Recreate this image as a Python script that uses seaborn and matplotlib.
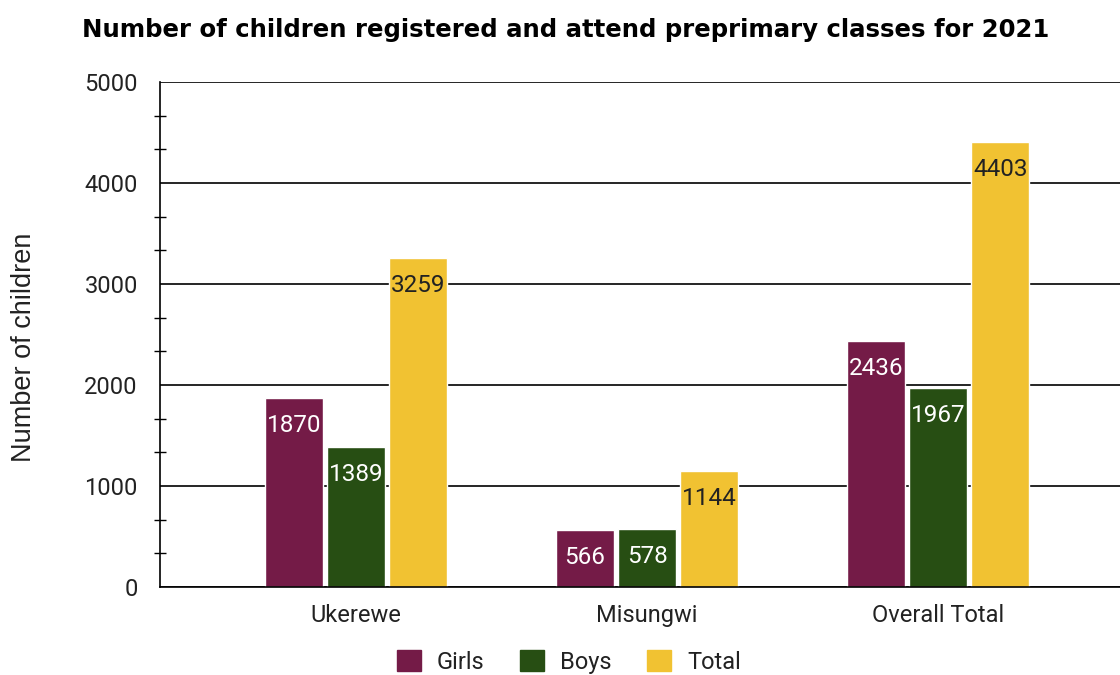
import matplotlib
matplotlib.use("Agg")
import matplotlib.pyplot as plt
import seaborn as sns
import pandas as pd
from matplotlib.patches import Patch
from matplotlib.ticker import MultipleLocator

categories = ["Ukerewe", "Misungwi", "Overall Total"]
series_names = ["Girls", "Boys", "Total"]
girls = [1870, 566, 2436]
boys = [1389, 578, 1967]
total = [3259, 1144, 4403]
colors = ["#741b47", "#274e13", "#f1c232"]
label_colors = ["white", "white", "#222222"]

rows = []
for name, vals in zip(series_names, [girls, boys, total]):
    for c, v in zip(categories, vals):
        rows.append({"Region": c, "Group": name, "Count": v})
df = pd.DataFrame(rows)

sns.set_theme(style="white")
plt.rcParams["font.family"] = ["Roboto", "DejaVu Sans"]

fig = plt.figure(figsize=(11.2, 6.75), dpi=100)
ax = fig.add_axes([160 / 1120, 1 - 587 / 675, 1 - 160 / 1120, (587 - 82) / 675])

sns.barplot(data=df, x="Region", y="Count", hue="Group", order=categories,
            hue_order=series_names, palette=colors, width=0.64, gap=0.065,
            saturation=1, ax=ax, legend=False)

for cont, lc in zip(ax.containers, label_colors):
    ax.bar_label(cont, labels=[str(int(b.get_height())) for b in cont],
                 label_type="edge", padding=-28, color=lc, fontsize=17.5)

ax.set_ylim(0, 5000)
ax.set_xlim(-0.674, 2.625)
ax.yaxis.set_major_locator(MultipleLocator(1000))
ax.yaxis.set_minor_locator(MultipleLocator(1000 / 3))
ax.grid(axis="y", which="major", color="black", linewidth=1.2)
ax.set_axisbelow(True)
for s in ["top", "right"]:
    ax.spines[s].set_visible(False)
ax.spines["left"].set_color("black")
ax.spines["left"].set_linewidth(1.2)
ax.spines["bottom"].set_color("black")
ax.spines["bottom"].set_linewidth(1.2)
ax.tick_params(axis="y", which="minor", left=True, direction="inout", length=8, width=1, color="black")
ax.tick_params(axis="y", which="major", left=False, labelsize=17, labelcolor="#222222", pad=10)
ax.tick_params(axis="x", bottom=False, labelsize=17, labelcolor="#222222", pad=6)
ax.set_xlabel("")
ax.set_ylabel("Number of children", fontsize=19.5, color="#222222",
              family=["Liberation Sans", "DejaVu Sans"])
ax.yaxis.set_label_coords((37 - 160) / 960, (587 - 347) / 505)

fig.text(82 / 1120, 1 - 30 / 675, "Number of children registered and attend preprimary classes for 2021",
         fontsize=17.6, fontweight="bold", family=["DejaVu Sans"],
         ha="left", va="center", color="black")

handles = [Patch(facecolor=c, edgecolor=c) for c in colors]
fig.legend(handles, series_names, loc="center", bbox_to_anchor=(0.508, 0.019), ncol=3,
           frameon=False, fontsize=17, handlelength=1.0, handleheight=1.0,
           columnspacing=1.5, handletextpad=0.7, labelcolor="#222222",
           borderpad=0.1)

fig.savefig("out.png", dpi=100)
